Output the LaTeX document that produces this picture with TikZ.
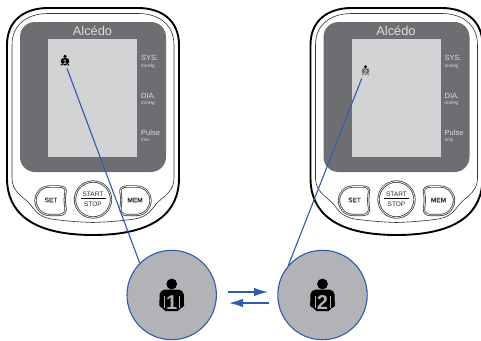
\documentclass[tikz,border=0pt]{standalone}
\usepackage{fontspec}
\setmainfont{Liberation Sans}
\newfontfamily\keyfont[FakeBold=0.5]{Liberation Sans}
\usetikzlibrary{arrows.meta}
\definecolor{screenc}{HTML}{6D6E71}
\definecolor{lcdc}{HTML}{D1D3D4}
\definecolor{discc}{HTML}{B1B3B6}
\definecolor{bluec}{HTML}{2E5CA8}
\definecolor{labelc}{HTML}{DCDDDE}
\definecolor{keyc}{HTML}{2B2B2B}
\tikzset{
  x=1pt,y=-1pt,
  shell/.style={draw=black,line width=1.9pt,fill=white},
  innerline/.style={draw=black!80,line width=.6pt},
  keyrim/.style={draw=black!75,line width=.8pt,double=white,double distance=.6pt,fill=white},
  keytext/.style={text=keyc,inner sep=0pt,font=\fontsize{6.5}{7}\selectfont},
  keybold/.style={text=keyc,inner sep=0pt,font=\fontsize{6.5}{7}\keyfont},
  biglabel/.style={text=labelc,inner sep=0pt,anchor=west,font=\fontsize{7.5}{8}\selectfont},
  smalllabel/.style={text=labelc,inner sep=0pt,anchor=west,font=\fontsize{4.6}{5}\selectfont},
  disc/.style={circle,draw=bluec,line width=1.1pt,fill=discc,minimum size=89.4pt,inner sep=0pt},
  pointer/.style={draw=bluec,line width=1.1pt},
  swaparrow/.style={draw=bluec,line width=1.3pt,-{Latex[length=14pt,width=8.5pt]}},
  armgap/.style={line width=.5pt},
  noarmgap/.style={draw=none},
  pics/person/.style n args={4}{code={
    \fill[black] (0,-11) circle (5.4);
    \fill[#4,rounded corners=1.8] (-8.5,-5.4) -- (8.5,-5.4) -- (12,-2.5) -- (12.4,12.6) -- (7.8,12.6) -- (7.8,16.2) -- (-7.8,16.2) -- (-7.8,12.6) -- (-12.4,12.6) -- (-12,-2.5) -- cycle;
    \draw[#2,#3] (-7.6,1) -- (-7.6,12.6) (7.6,1) -- (7.6,12.6);
    \node[transform shape,inner sep=0pt,text=#2,font=\fontsize{20}{20}\selectfont\bfseries] (-num) at (0,7.3) {#1};
  }},
  pics/device/.style={code={
    \path[shell] (7,45) .. controls (7,20) and (25,8) .. (48,8) -- (138,8) .. controls (161,8) and (179,20) .. (179,45)
      -- (179,178) .. controls (179,212) and (155,235) .. (93,235) .. controls (31,235) and (7,212) .. (7,178) -- cycle;
    \path[innerline] (12,45) .. controls (12,24) and (28,13.5) .. (48,13.5) -- (138,13.5) .. controls (158,13.5) and (174,24) .. (174,45)
      -- (174,178) .. controls (174,190) and (166,195) .. (158,202) .. controls (152,208) and (150,216) .. (135,219)
      .. controls (120,221) and (108,222) .. (93,222.5) .. controls (78,222) and (66,221) .. (51,219)
      .. controls (36,216) and (34,208) .. (28,202) .. controls (20,195) and (12,190) .. (12,178) -- cycle;
    \fill[screenc,rounded corners=15] (20,22) rectangle (166,172);
    \fill[lcdc] (48,39) rectangle (137,157);
    \node[inner sep=0pt,text=labelc,font=\fontsize{12.8}{14}\selectfont] (-brand) at (92.5,31) {Alcédo};
    \node[biglabel] (-sys) at (141,57.5) {SYS.};
    \node[smalllabel] (-sysu) at (141,66) {mmHg};
    \node[biglabel] (-dia) at (141,96) {DIA.};
    \node[smalllabel] (-diau) at (141,103.5) {mmHg};
    \node[biglabel] (-pulse) at (141,132.5) {Pulse};
    \node[smalllabel] (-pulseu) at (141,140) {/min};
    \path[keyrim] (50,186.5) -- (59,186.5) .. controls (64,186.5) and (66,189) .. (65.5,192)
      .. controls (64.5,197) and (64.5,203) .. (65.5,208) .. controls (66,212) and (64,215) .. (59,215)
      -- (50,215) .. controls (41,215) and (35.5,208) .. (35.5,200.5) .. controls (35.5,193) and (41,186.5) .. (50,186.5) -- cycle;
    \path[keyrim] (136,186.5) -- (127,186.5) .. controls (122,186.5) and (120,189) .. (120.5,192)
      .. controls (121.5,197) and (121.5,203) .. (120.5,208) .. controls (120,212) and (122,215) .. (127,215)
      -- (136,215) .. controls (145,215) and (150.5,208) .. (150.5,200.5) .. controls (150.5,193) and (145,186.5) .. (136,186.5) -- cycle;
    \path[keyrim] (93,199.5) circle (18);
    \node[keybold] (-set) at (51,200) {SET};
    \node[keybold] (-mem) at (135,200) {MEM};
    \node[keytext] (-start) at (93,194) {START};
    \node[keytext] (-stop) at (93,204) {STOP};
    \draw[black,line width=.8pt] (80.5,198.7) -- (105.5,198.7);
  }}
}
\begin{document}
\begin{tikzpicture}
\useasboundingbox (0,0) rectangle (481,340);
\pic (L) at (0,0) {device};
\pic (R) at (303.5,0) {device};
\pic[scale=.33] (sa) at (65,60) {person={1}{lcdc}{noarmgap}{black}};
\pic[scale=.3] (sb) at (365.5,70) {person={2}{lcdc}{noarmgap}{black!60}};
\node[disc] (c1) at (171.7,295) {};
\node[disc] (c2) at (322.5,295) {};
\pic (ba) at (171.7,295) {person={1}{discc}{armgap}{black}};
\pic (bb) at (322.5,295) {person={2}{discc}{armgap}{black}};
\coordinate (t1) at (67,68.5);
\coordinate (t2) at (361.7,78.5);
\coordinate (a1) at (228,292);
\coordinate (a2) at (268,292);
\coordinate (b1) at (269,303);
\coordinate (b2) at (229,303);
\draw[pointer] (t1) -- (c1.135);
\draw[pointer] (t2) -- (c2.139);
\draw[swaparrow] (a1) -- (a2);
\draw[swaparrow] (b1) -- (b2);
\end{tikzpicture}
\end{document}
